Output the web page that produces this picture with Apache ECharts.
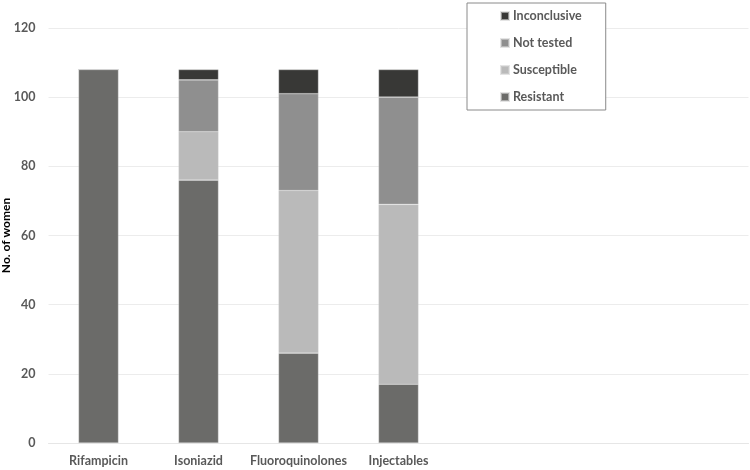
<!DOCTYPE html>
<html>
<head>
<meta charset="utf-8">
<script src="https://cdn.jsdelivr.net/npm/echarts@6/dist/echarts.min.js"></script>
<style>
html,body{margin:0;padding:0;background:#fff;}
#chart{width:750px;height:470px;}
</style>
</head>
<body>
<div id="chart"></div>
<script>
const categories = ['Rifampicin', 'Isoniazid', 'Fluoroquinolones', 'Injectables', '', '', ''];
const resistant = [108, 76, 26, 17, null, null, null];
const susceptible = [0, 14, 47, 52, null, null, null];
const notTested = [0, 15, 28, 31, null, null, null];
const inconclusive = [0, 3, 7, 8, null, null, null];
const legendOrder = ['Inconclusive', 'Not tested', 'Susceptible', 'Resistant'];
const yTicks = {min: 0, max: 120, interval: 20};

const font = 'Lato, "Open Sans", sans-serif';
const chart = echarts.init(document.getElementById('chart'), null, {renderer: 'canvas'});

function barSeries(name, data, color) {
  return {
    name: name,
    type: 'bar',
    stack: 'total',
    data: data,
    barWidth: 40,
    itemStyle: {color: color, borderColor: 'rgba(210,210,210,0.6)', borderWidth: 0.6},
    emphasis: {disabled: true}
  };
}

chart.setOption({
  animation: false,
  backgroundColor: '#ffffff',
  textStyle: {fontFamily: font},
  grid: {left: 48.5, right: 1.5, top: 28, bottom: 27, containLabel: false, outerBoundsMode: 'none'},
  legend: {
    orient: 'vertical',
    left: 467,
    top: 3,
    data: legendOrder,
    itemWidth: 8,
    itemHeight: 8,
    itemGap: 13,
    icon: 'rect',
    padding: [6, 24, 6, 33],
    borderColor: '#8a8a8a',
    borderWidth: 1,
    backgroundColor: '#ffffff',
    textStyle: {fontFamily: font, fontWeight: 'bold', fontSize: 12.5, color: '#595959', lineHeight: 14, padding: [0, 0, 0, -1]}
  },
  xAxis: {
    type: 'category',
    data: categories,
    axisLine: {show: true, lineStyle: {color: '#e6e6e6', width: 1}},
    axisTick: {show: false},
    axisLabel: {fontFamily: font, fontWeight: 'bold', fontSize: 12.5, color: '#595959', margin: 11, interval: 0}
  },
  yAxis: {
    type: 'value',
    min: yTicks.min,
    max: yTicks.max,
    interval: yTicks.interval,
    name: 'No. of women',
    nameLocation: 'middle',
    nameGap: 36,
    nameMoveOverlap: false,
    nameTextStyle: {fontFamily: font, fontWeight: 'bold', fontSize: 12, color: '#000'},
    axisLine: {show: false},
    axisTick: {show: false},
    axisLabel: {fontFamily: font, fontWeight: 'bold', fontSize: 12.5, color: '#595959', margin: 13},
    splitLine: {lineStyle: {color: '#ececec', width: 1}}
  },
  series: [
    barSeries('Resistant', resistant, '#6b6b69'),
    barSeries('Susceptible', susceptible, '#bababa'),
    barSeries('Not tested', notTested, '#8f8f8f'),
    barSeries('Inconclusive', inconclusive, '#383836')
  ]
});
</script>
</body>
</html>
